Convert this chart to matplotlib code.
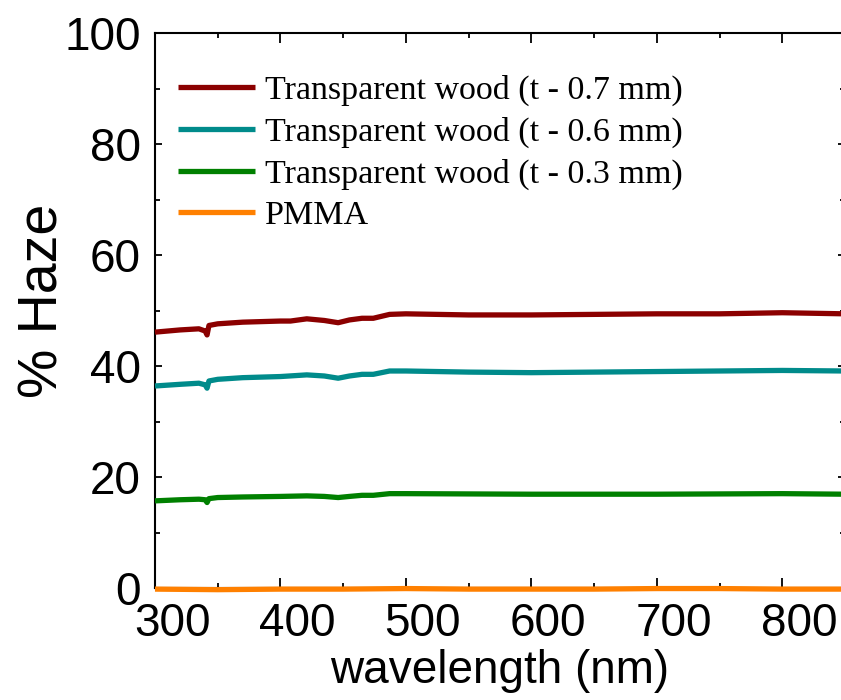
import matplotlib
matplotlib.use("Agg")
import matplotlib.pyplot as plt
import matplotlib.transforms as mtransforms
from matplotlib.ticker import MultipleLocator

# ---- data ----
wl_07 = [300, 320, 335, 340, 341.5, 343, 350, 370, 400, 408, 421, 435, 446, 455, 465, 474, 487, 500, 550, 600, 650, 700, 750, 800, 850]
haze_07 = [46.1, 46.5, 46.7, 46.3, 45.6, 47.3, 47.6, 47.9, 48.1, 48.1, 48.5, 48.2, 47.8, 48.3, 48.6, 48.6, 49.3, 49.4, 49.2, 49.2, 49.3, 49.4, 49.4, 49.6, 49.4]

wl_06 = [300, 320, 335, 340, 341.5, 343, 350, 370, 400, 421, 435, 446, 455, 465, 474, 487, 500, 550, 600, 650, 700, 750, 800, 850]
haze_06 = [36.4, 36.7, 36.9, 36.6, 36.0, 37.3, 37.6, 37.9, 38.1, 38.4, 38.2, 37.8, 38.2, 38.5, 38.5, 39.1, 39.1, 38.9, 38.8, 38.9, 39.0, 39.1, 39.2, 39.1]

wl_03 = [300, 320, 335, 340, 341.5, 343, 350, 370, 400, 421, 435, 446, 455, 465, 474, 487, 500, 600, 700, 800, 850]
haze_03 = [15.7, 15.9, 16.0, 15.9, 15.4, 16.1, 16.3, 16.4, 16.5, 16.6, 16.5, 16.3, 16.5, 16.7, 16.7, 17.0, 17.0, 16.9, 16.9, 17.0, 16.9]

wl_pmma = [300, 350, 400, 450, 500, 550, 600, 650, 700, 750, 800, 850]
haze_pmma = [-0.2, -0.3, -0.2, -0.2, -0.1, -0.2, -0.2, -0.2, -0.1, -0.1, -0.2, -0.2]

labels = ["Transparent wood (t - 0.7 mm)",
          "Transparent wood (t - 0.6 mm)",
          "Transparent wood (t - 0.3 mm)",
          "PMMA"]
colors = ["#8B0000", "#008B8B", "#008000", "#FF8000"]

xticks = [300, 400, 500, 600, 700, 800]
yticks = [0, 20, 40, 60, 80, 100]

# ---- figure ----
fig = plt.figure(figsize=(8.41, 7.0), dpi=100)
ax = fig.add_axes([155 / 841, 112 / 700, 690 / 841, 555 / 700])

series = [(wl_07, haze_07), (wl_06, haze_06), (wl_03, haze_03), (wl_pmma, haze_pmma)]
for (x, y), c, lab in zip(series, colors, labels):
    ax.plot(x, y, color=c, lw=3.8, label=lab, solid_capstyle="butt",
            clip_on=False, zorder=5)

ax.set_xlim(300, 850)
ax.set_ylim(0, 100)
ax.set_xticks(xticks)
ax.set_yticks(yticks)
ax.xaxis.set_minor_locator(MultipleLocator(50))
ax.yaxis.set_minor_locator(MultipleLocator(10))

for s in ax.spines.values():
    s.set_linewidth(1.5)

ax.tick_params(axis="both", which="both", direction="in", top=True, right=True, width=1.3)
ax.tick_params(axis="x", which="major", length=7, pad=10)
ax.tick_params(axis="x", which="minor", length=3.5)
ax.tick_params(axis="y", which="major", length=5, pad=10)
ax.tick_params(axis="y", which="minor", length=3.5)

tickfont = {"family": "Liberation Sans", "size": 33}
ax.set_xticklabels([str(t) for t in xticks], fontdict=tickfont)
ax.set_yticklabels([str(t) for t in yticks], fontdict=tickfont)

# x tick labels in the reference sit slightly right of their ticks
offset = mtransforms.ScaledTranslation(17 / 100, 0, fig.dpi_scale_trans)
for lbl in ax.get_xticklabels():
    lbl.set_transform(lbl.get_transform() + offset)

ax.set_xlabel("wavelength (nm)", family="Liberation Sans", fontsize=33, labelpad=2)
ax.set_ylabel("% Haze", family="Liberation Sans", fontsize=40)
ax.yaxis.set_label_coords(-0.124, 0.517)

leg = ax.legend(loc="upper left", bbox_to_anchor=(23 / 690, 1 - 42 / 555), frameon=False,
                prop={"family": "Liberation Serif", "size": 24.5},
                handlelength=2.26, handletextpad=0.3, labelspacing=0.31,
                borderaxespad=0.0, borderpad=0.0)
for h in leg.get_lines():
    h.set_linewidth(3.8)

fig.savefig("out.png", dpi=100)
